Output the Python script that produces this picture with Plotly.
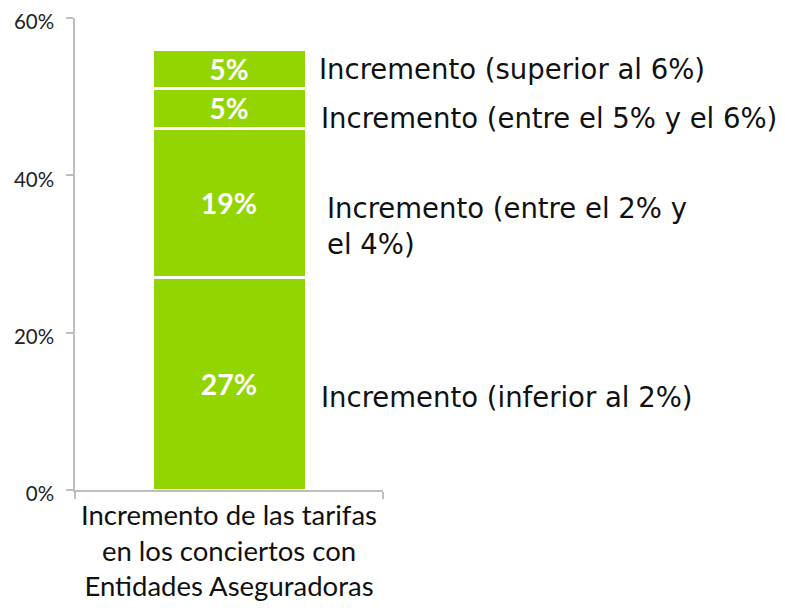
import plotly.graph_objects as go

category = ["Incremento de las tarifas<br>en los conciertos con<br>Entidades Aseguradoras"]
series_names = [
    "Incremento (inferior al 2%)",
    "Incremento (entre el 2% y<br>el 4%)",
    "Incremento (entre el 5% y el 6%)",
    "Incremento (superior al 6%)",
]
values = [27, 19, 5, 5]
bar_labels = ["27%", "19%", "5%", "5%"]
tick_vals = [0, 20, 40, 60]
tick_text = ["0%", "20%", "40%", "60%"]

GREEN = "#93D500"
fig = go.Figure()
for name, v, lab in zip(series_names, values, bar_labels):
    fig.add_trace(go.Bar(
        x=category, y=[v], name=name, text=[lab],
        textposition="inside", insidetextanchor="middle",
        textfont=dict(family="Lato", size=28.5, color="white", weight="bold"),
        marker=dict(color=GREEN, line=dict(color="white", width=3)),
        width=0.5, showlegend=False,
    ))

# side labels
x_pos = [0.792, 0.812, 0.792, 0.786]
y_shift = [-13, -23, -10, 0]
cum = 0
for name, v, xp, ys in zip(series_names, values, x_pos, y_shift):
    mid = cum + v / 2
    cum += v
    fig.add_annotation(
        x=xp, xref="paper", y=mid, yref="y", yshift=ys,
        text=name, showarrow=False, xanchor="left", yanchor="middle", align="left",
        font=dict(family="DejaVu Sans", size=27.5, color="#111111"),
    )

fig.update_layout(
    barmode="stack",
    width=785, height=614,
    margin=dict(l=67, r=410, t=10, b=132, autoexpand=False),
    paper_bgcolor="white", plot_bgcolor="white",
    yaxis=dict(
        range=[0, 60], tickvals=tick_vals, ticktext=tick_text,
        showline=True, linecolor="#BFBFBF", linewidth=1.5,
        ticks="outside", ticklen=7, tickcolor="#BFBFBF", tickwidth=1.5,
        showgrid=False, zeroline=False, automargin=False,
        ticklabeloverflow="allow", ticklabelstandoff=8, ticklabelshift=4,
        tickfont=dict(family="Lato", size=20.5, color="#222222"),
    ),
    xaxis=dict(
        showline=True, linecolor="#BFBFBF", linewidth=1.5,
        ticks="outside", ticklen=7, tickcolor="#BFBFBF", tickwidth=1.5,
        tickson="boundaries", range=[-0.5, 0.5], automargin=False,
        ticklabeloverflow="allow",
        tickfont=dict(family="Lato", size=27.5, color="#111111"),
    ),
    uniformtext=dict(mode=False),
)

fig.write_html("out.html")
